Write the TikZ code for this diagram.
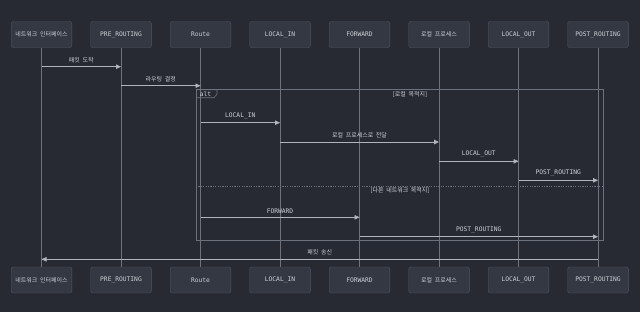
\documentclass[tikz,border=0pt]{standalone}
\usepackage{fontspec}
\setmonofont{DejaVu Sans Mono}
\newfontfamily\krfont[WordSpace=2]{Noto Sans CJK KR}
\newcommand{\kr}{\krfont\fontsize{6}{7}\selectfont}
\usetikzlibrary{arrows.meta,positioning}
\definecolor{night}{RGB}{39,42,51}
\definecolor{slab}{RGB}{52,56,67}
\definecolor{edge}{RGB}{80,85,98}
\definecolor{wire}{RGB}{108,113,126}
\definecolor{chalk}{RGB}{204,207,214}
\definecolor{ray}{RGB}{176,180,189}
\tikzset{
  actor/.style={draw=edge,fill=slab,rounded corners=2pt,minimum width=60.6bp,minimum height=26bp,inner sep=1pt,outer sep=0pt,font=\ttfamily\fontsize{6.3}{7}\selectfont,text=chalk},
  life/.style={draw=wire,line width=0.8bp},
  msg/.style={-{Triangle[length=5bp,width=4.5bp]},draw=ray,fill=ray,line width=0.9bp},
  lbl/.style={font=\ttfamily\fontsize{6.3}{7}\selectfont,text=chalk,inner sep=1pt},
  frame/.style={draw=wire,line width=0.6bp},
  split/.style={draw=wire,line width=0.8bp,dash pattern=on 1.2bp off 1.2bp},
}
\begin{document}
\begin{tikzpicture}[x=1bp,y=-1bp,node distance=18.9bp]
\fill[night] (0,0) rectangle (640,312);
\useasboundingbox (0,0) rectangle (640,312);
% actors, top row
\node[actor] (nic) at (41.5,34.5) {\kr 네트워크 인터페이스};
\node[actor,right=of nic] (pre) {PRE\_ROUTING};
\node[actor,right=of pre] (route) {Route};
\node[actor,right=of route] (lin) {LOCAL\_IN};
\node[actor,right=of lin] (fwd) {FORWARD};
\node[actor,right=of fwd] (proc) {\kr 로컬 프로세스};
\node[actor,right=of proc] (lout) {LOCAL\_OUT};
\node[actor,right=of lout] (post) {POST\_ROUTING};
% actors, bottom row
\node[actor] (nicB) at (41.5,280) {\kr 네트워크 인터페이스};
\node[actor,right=of nicB] (preB) {PRE\_ROUTING};
\node[actor,right=of preB] (routeB) {Route};
\node[actor,right=of routeB] (linB) {LOCAL\_IN};
\node[actor,right=of linB] (fwdB) {FORWARD};
\node[actor,right=of fwdB] (procB) {\kr 로컬 프로세스};
\node[actor,right=of procB] (loutB) {LOCAL\_OUT};
\node[actor,right=of loutB] (postB) {POST\_ROUTING};
% lifelines
\draw[life] (nic) -- (nicB);
\draw[life] (pre) -- (preB);
\draw[life] (route) -- (routeB);
\draw[life] (lin) -- (linB);
\draw[life] (fwd) -- (fwdB);
\draw[life] (proc) -- (procB);
\draw[life] (lout) -- (loutB);
\draw[life] (post) -- (postB);
% alt frame
\coordinate (altNW) at (196,89.7);
\coordinate (altSE) at (603,240);
\coordinate (altSep) at (0,186);
\draw[frame] (altNW) rectangle (altSE);
\draw[frame] (altNW) -- ++(21,0) -- ++(0,4.5) -- ++(-3,3.5) -- ++(-18,0);
\node[lbl] (altTag) at (205.5,94) {alt};
\node[lbl] (caseA) at (410,94.5) {\kr [로컬 목적지]};
\draw[split] (altNW |- altSep) -- (altSE |- altSep);
\node[lbl] (caseB) at (400,191) {\kr [다른 네트워크 목적지]};
% message levels
\coordinate (m1) at (0,66.7);
\coordinate (m2) at (0,85.7);
\coordinate (m3) at (0,122.7);
\coordinate (m4) at (0,142);
\coordinate (m5) at (0,161.3);
\coordinate (m6) at (0,180.3);
\coordinate (m7) at (0,217.3);
\coordinate (m8) at (0,236.7);
\coordinate (m9) at (0,259.3);
\draw[msg] (nic |- m1) -- (pre |- m1) node[midway,above=2.5bp,lbl]{\kr 패킷 도착};
\draw[msg] (pre |- m2) -- (route |- m2) node[midway,above=2.5bp,lbl]{\kr 라우팅 결정};
\draw[msg] (route |- m3) -- (lin |- m3) node[midway,above=2.5bp,lbl]{LOCAL\_IN};
\draw[msg] (lin |- m4) -- (proc |- m4) node[midway,above=2.5bp,lbl]{\kr 로컬 프로세스로 전달};
\draw[msg] (proc |- m5) -- (lout |- m5) node[midway,above=2.5bp,lbl]{LOCAL\_OUT};
\draw[msg] (lout |- m6) -- (post |- m6) node[midway,above=2.5bp,lbl]{POST\_ROUTING};
\draw[msg] (route |- m7) -- (fwd |- m7) node[midway,above=2.5bp,lbl]{FORWARD};
\draw[msg] (fwd |- m8) -- (post |- m8) node[midway,above=2.5bp,lbl]{POST\_ROUTING};
\draw[msg] (post |- m9) -- (nic |- m9) node[midway,above=2.5bp,lbl]{\kr 패킷 송신};
\end{tikzpicture}
\end{document}
